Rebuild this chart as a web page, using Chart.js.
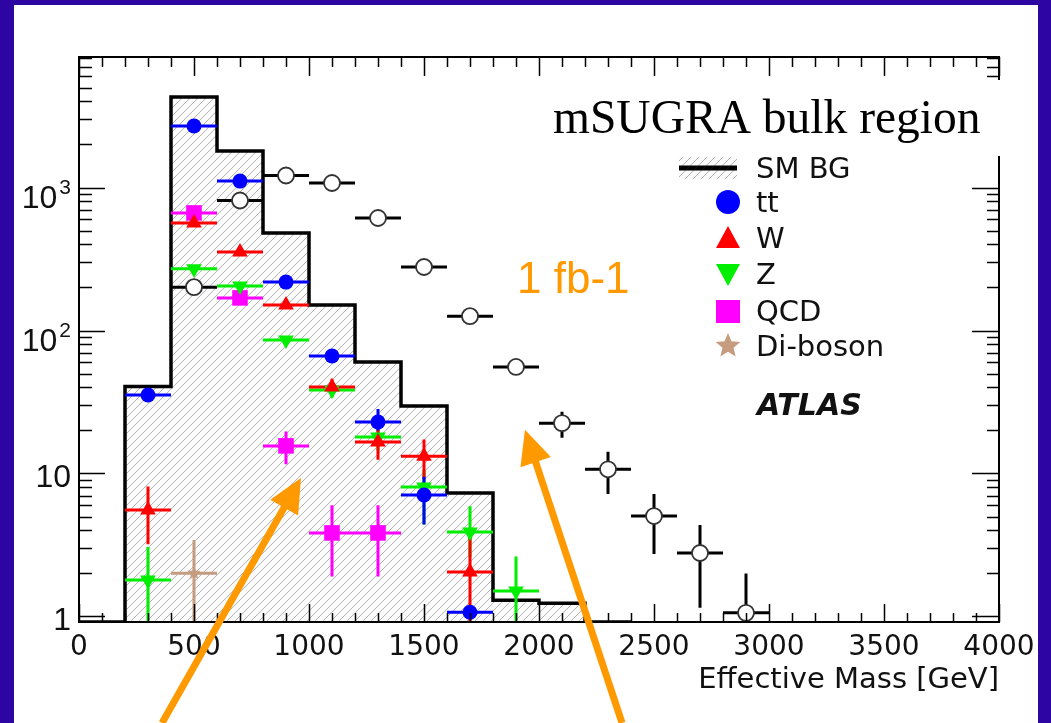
<!DOCTYPE html>
<html>
<head>
<meta charset="utf-8">
<title>Effective Mass</title>
<script src="https://cdn.jsdelivr.net/npm/chart.js@4.4.1/dist/chart.umd.min.js"></script>
<style>
  html, body { margin: 0; padding: 0; background: #2c05a2; }
  canvas { display: block; }
</style>
</head>
<body>
<canvas id="meffChart" width="1051" height="723"></canvas>
<script>
// Effective mass, 200 GeV bins (SM background histogram)
const binEdges = [0, 200, 400, 600, 800, 1000, 1200, 1400, 1600, 1800, 2000, 2200, 2400];
const smBackground = [0, 40.6, 4295, 1799, 481, 151, 60.3, 29.7, 7.31, 1.30, 1.24, 0];

// SUSY signal (open circles)
const signalMass = [500, 700, 900, 1100, 1300, 1500, 1700, 1900, 2100, 2300, 2500, 2700, 2900];
const signalEvents = [201, 811, 1213, 1075, 612, 278, 126, 55.6, 22.5, 10.7, 5.04, 2.78, 1.06];
const signalLow = [null, null, null, null, null, null, null, 52, 17.8, 7.2, 2.74, 1.15, 0];
const signalHigh = [null, null, null, null, null, null, null, 60, 27.0, 14.2, 7.2, 4.36, 2.0];

// background components
const ttMass = [300, 500, 700, 900, 1100, 1300, 1500, 1700];
const ttEvents = [35.4, 2692, 1109, 218, 66.4, 22.9, 7.07, 1.07];
const ttLow = [null, null, null, null, null, 20, 4.4, null];
const ttHigh = [null, null, null, null, null, 28.3, 9.5, null];

const wMass = [300, 500, 700, 900, 1100, 1300, 1500, 1700];
const wEvents = [5.56, 565, 354, 151, 40.3, 16.6, 13.2, 2.05];
const wLow = [3.2, null, null, null, 35, 12.5, 9.1, 0];
const wHigh = [8.1, null, null, null, 46, 22.7, 17.3, 3.6];

const zMass = [300, 500, 700, 900, 1100, 1300, 1500, 1700, 1900];
const zEvents = [1.80, 270, 205, 85.9, 38.4, 18.0, 8.05, 3.90, 1.51];
const zLow = [0, null, null, null, 34, 14.5, 4.4, 2.6, 0];
const zHigh = [3.06, null, null, null, 43, 21, 10.5, 5.9, 2.63];

const qcdMass = [500, 700, 900, 1100, 1300];
const qcdEvents = [664, 169, 15.6, 3.84, 3.84];
const qcdLow = [null, null, 11.6, 1.9, 1.9];
const qcdHigh = [null, null, 19.7, 6.0, 6.0];

const dibosonMass = [500];
const dibosonEvents = [2.01];
const dibosonLow = [0];
const dibosonHigh = [3.43];

// axis ticks
const xTickValues = [0, 500, 1000, 1500, 2000, 2500, 3000, 3500, 4000];
const xTickLabels = ['0', '500', '1000', '1500', '2000', '2500', '3000', '3500', '4000'];
const yTickValues = [1, 10, 100, 1000];
const yTickBase = ['1', '10', '10', '10'];
const yTickExp = ['', '', '2', '3'];

const legendNames = ['SM BG', 'tt', 'W', 'Z', 'QCD', 'Di-boson'];

// orange arrows (tail -> tip, data coordinates)
const arrowTailMass = [361, 2361];
const arrowTailEvents = [0.18, 0.18];
const arrowTipMass = [965, 1939];
const arrowTipEvents = [9.3, 20.2];

const Y_MIN = 0.915;
const Y_MAX = 8180;
const HALF_BIN = 100;

const BLUE = '#0000ff', RED = '#ff0000', GREEN = '#00ee00', MAGENTA = '#ff00ff', TAN = '#c59c80';

// hatch fill for the background histogram
function makeHatch() {
  const s = 8;
  const c = document.createElement('canvas');
  c.width = s; c.height = s;
  const g = c.getContext('2d');
  g.fillStyle = '#fbfbfb';
  g.fillRect(0, 0, s, s);
  g.strokeStyle = '#b4b4b4';
  g.lineWidth = 1;
  g.beginPath();
  g.moveTo(0, s); g.lineTo(s, 0);
  g.moveTo(-1, 1); g.lineTo(1, -1);
  g.moveTo(s - 1, s + 1); g.lineTo(s + 1, s - 1);
  g.stroke();
  return g.createPattern(c, 'repeat');
}
const hatch = makeHatch();

function starPath(ctx, x, y, r) {
  ctx.beginPath();
  for (let i = 0; i < 10; i++) {
    const rr = i % 2 === 0 ? r : r * 0.45;
    const a = -Math.PI / 2 + i * Math.PI / 5;
    const px = x + rr * Math.cos(a), py = y + rr * Math.sin(a);
    if (i === 0) ctx.moveTo(px, py); else ctx.lineTo(px, py);
  }
  ctx.closePath();
}

function makeStar(r, color) {
  const c = document.createElement('canvas');
  c.width = 2 * r + 2; c.height = 2 * r + 2;
  const g = c.getContext('2d');
  g.fillStyle = color;
  starPath(g, r + 1, r + 1, r);
  g.fill();
  return c;
}

function toPoints(xs, ys) {
  return xs.map((x, i) => ({ x: x, y: ys[i] }));
}

// histogram outline: two points per bin, clamped to the bottom for empty bins
const histPoints = [];
smBackground.forEach((v, i) => {
  const y = v > 0 ? v : Y_MIN;
  histPoints.push({ x: binEdges[i], y: y });
  histPoints.push({ x: binEdges[i + 1], y: y });
});

const errorSets = [
  { xs: signalMass, ys: signalEvents, lo: signalLow, hi: signalHigh, color: '#000000' },
  { xs: dibosonMass, ys: dibosonEvents, lo: dibosonLow, hi: dibosonHigh, color: TAN },
  { xs: qcdMass, ys: qcdEvents, lo: qcdLow, hi: qcdHigh, color: MAGENTA },
  { xs: zMass, ys: zEvents, lo: zLow, hi: zHigh, color: GREEN },
  { xs: wMass, ys: wEvents, lo: wLow, hi: wHigh, color: RED },
  { xs: ttMass, ys: ttEvents, lo: ttLow, hi: ttHigh, color: BLUE }
];

const errorBars = {
  id: 'errorBars',
  afterDatasetDraw(chart, args) {
    if (args.index !== 0) return;
    const ctx = chart.ctx, xs = chart.scales.x, ys = chart.scales.y, a = chart.chartArea;
    ctx.save();
    ctx.beginPath();
    ctx.rect(a.left, a.top, a.right - a.left, a.bottom - a.top);
    ctx.clip();
    ctx.lineWidth = 3;
    errorSets.forEach(set => {
      ctx.strokeStyle = set.color;
      ctx.beginPath();
      set.xs.forEach((m, i) => {
        const py = ys.getPixelForValue(set.ys[i]);
        ctx.moveTo(xs.getPixelForValue(m - HALF_BIN), py);
        ctx.lineTo(xs.getPixelForValue(m + HALF_BIN), py);
        if (set.lo[i] !== null) {
          const px = xs.getPixelForValue(m);
          const lo = set.lo[i] > 0 ? ys.getPixelForValue(set.lo[i]) : a.bottom;
          ctx.moveTo(px, lo);
          ctx.lineTo(px, ys.getPixelForValue(set.hi[i]));
        }
      });
      ctx.stroke();
    });
    ctx.restore();
  }
};

function drawArrow(ctx, x0, y0, x1, y1) {
  const dx = x1 - x0, dy = y1 - y0, len = Math.hypot(dx, dy);
  const ux = dx / len, uy = dy / len, nx = -uy, ny = ux;
  const head = 34, half = 16;
  ctx.strokeStyle = '#ff9900';
  ctx.fillStyle = '#ff9900';
  ctx.lineWidth = 7;
  ctx.beginPath();
  ctx.moveTo(x0, y0);
  ctx.lineTo(x1 - ux * (head - 4), y1 - uy * (head - 4));
  ctx.stroke();
  ctx.beginPath();
  ctx.moveTo(x1, y1);
  ctx.lineTo(x1 - ux * head + nx * half, y1 - uy * head + ny * half);
  ctx.lineTo(x1 - ux * head - nx * half, y1 - uy * head - ny * half);
  ctx.closePath();
  ctx.fill();
}

const decorations = {
  id: 'decorations',
  beforeDraw(chart) {
    const ctx = chart.ctx;
    ctx.save();
    ctx.fillStyle = '#2c05a2';
    ctx.fillRect(0, 0, chart.width, chart.height);
    ctx.fillStyle = '#ffffff';
    ctx.fillRect(14, 5, 1038 - 14, chart.height - 5);
    ctx.restore();
  },
  afterDraw(chart) {
    const ctx = chart.ctx, xs = chart.scales.x, ys = chart.scales.y;
    const { left, right, top, bottom } = chart.chartArea;
    ctx.save();

    // frame and inward ticks on all four sides
    ctx.strokeStyle = '#000';
    ctx.lineWidth = 2;
    ctx.strokeRect(left, top, right - left, bottom - top);
    ctx.lineWidth = 1.5;
    ctx.beginPath();
    for (let v = 0; v <= 4000; v += 100) {
      const px = Math.round(xs.getPixelForValue(v)) + 0.5;
      const major = v % 500 === 0;
      ctx.moveTo(px, bottom); ctx.lineTo(px, bottom - (major ? 18 : 9));
      ctx.moveTo(px, top); ctx.lineTo(px, top + (major ? 19 : 10));
    }
    for (let d = 1; d <= 1000; d *= 10) {
      for (let m = 1; m <= 9; m++) {
        const v = d * m;
        if (v > Y_MAX) break;
        const py = Math.round(ys.getPixelForValue(v)) + 0.5;
        const major = m === 1;
        ctx.moveTo(left, py); ctx.lineTo(left + (major ? 26 : 13), py);
        ctx.moveTo(right, py); ctx.lineTo(right - (major ? 27 : 12), py);
      }
    }
    ctx.stroke();

    // tick labels
    ctx.fillStyle = '#111';
    ctx.font = '28px "DejaVu Sans"';
    ctx.textAlign = 'center';
    ctx.textBaseline = 'alphabetic';
    xTickValues.forEach((v, i) => {
      ctx.fillText(xTickLabels[i], xs.getPixelForValue(v), bottom + 33);
    });
    ctx.textAlign = 'right';
    yTickValues.forEach((v, i) => {
      const py = ys.getPixelForValue(v);
      if (yTickExp[i]) {
        ctx.font = '21px "Liberation Sans"';
        ctx.fillText(yTickExp[i], 71, py + 6);
        const w = ctx.measureText(yTickExp[i]).width;
        ctx.font = '32px "Liberation Sans"';
        ctx.fillText(yTickBase[i], 71 - w - 2, py + 20);
      } else {
        ctx.font = '32px "Liberation Sans"';
        ctx.fillText(yTickBase[i], 71, py + 14);
      }
    });

    // axis title
    ctx.font = '29px "DejaVu Sans"';
    ctx.fillText('Effective Mass [GeV]', right, bottom + 66);

    // region label on its white box
    ctx.fillStyle = '#ffffff';
    ctx.fillRect(548, 80, 458, 76);
    ctx.fillStyle = '#000';
    ctx.textAlign = 'left';
    ctx.font = '47.5px "Liberation Serif"';
    ctx.fillText('mSUGRA bulk region', 553, 133);

    // legend
    const lx = 728, tx = 756;
    const rows = [168, 202, 238, 274, 311, 346];
    ctx.fillStyle = hatch;
    ctx.fillRect(679, 157, 58, 22);
    ctx.strokeStyle = '#000';
    ctx.lineWidth = 5;
    ctx.beginPath();
    ctx.moveTo(679, rows[0]); ctx.lineTo(737, rows[0]);
    ctx.stroke();
    ctx.fillStyle = BLUE;
    ctx.beginPath(); ctx.arc(lx, rows[1], 12, 0, 2 * Math.PI); ctx.fill();
    ctx.fillStyle = RED;
    ctx.beginPath();
    ctx.moveTo(lx, rows[2] - 12); ctx.lineTo(lx + 12, rows[2] + 10); ctx.lineTo(lx - 12, rows[2] + 10);
    ctx.closePath(); ctx.fill();
    ctx.fillStyle = GREEN;
    ctx.beginPath();
    ctx.moveTo(lx, rows[3] + 12); ctx.lineTo(lx + 12, rows[3] - 10); ctx.lineTo(lx - 12, rows[3] - 10);
    ctx.closePath(); ctx.fill();
    ctx.fillStyle = MAGENTA;
    ctx.fillRect(lx - 12, rows[4] - 11, 24, 23);
    ctx.fillStyle = TAN;
    starPath(ctx, lx, rows[5], 13);
    ctx.fill();

    ctx.fillStyle = '#111';
    ctx.font = '29px "DejaVu Sans"';
    ctx.textBaseline = 'middle';
    legendNames.forEach((name, i) => ctx.fillText(name, tx, rows[i] + 2));

    ctx.textBaseline = 'alphabetic';
    ctx.font = 'italic bold 30px "DejaVu Sans"';
    ctx.fillText('ATLAS', 757, 415);

    ctx.fillStyle = '#ff9900';
    ctx.font = '44px "Liberation Sans"';
    ctx.fillText('1 fb-1', 517, 293);

    arrowTipMass.forEach((m, i) => {
      drawArrow(ctx,
        xs.getPixelForValue(arrowTailMass[i]), ys.getPixelForValue(arrowTailEvents[i]),
        xs.getPixelForValue(m), ys.getPixelForValue(arrowTipEvents[i]));
    });
    ctx.restore();
  }
};

new Chart(document.getElementById('meffChart'), {
  type: 'scatter',
  data: {
    datasets: [
      {
        label: 'SM BG',
        data: histPoints,
        showLine: true,
        borderColor: '#000',
        borderWidth: 3.5,
        backgroundColor: hatch,
        fill: 'start',
        pointRadius: 0,
        tension: 0,
        order: 10
      },
      {
        label: 'signal',
        data: toPoints(signalMass, signalEvents),
        pointStyle: 'circle',
        pointRadius: 8,
        backgroundColor: '#ffffff',
        borderColor: '#333',
        borderWidth: 1.8
      },
      {
        label: 'tt',
        data: toPoints(ttMass, ttEvents),
        pointStyle: 'circle',
        pointRadius: 7.5,
        backgroundColor: BLUE,
        borderColor: BLUE,
        borderWidth: 0
      },
      {
        label: 'W',
        data: toPoints(wMass, wEvents),
        pointStyle: 'triangle',
        pointRadius: 9,
        backgroundColor: RED,
        borderColor: RED,
        borderWidth: 0
      },
      {
        label: 'Z',
        data: toPoints(zMass, zEvents),
        pointStyle: 'triangle',
        rotation: 180,
        pointRadius: 9,
        backgroundColor: GREEN,
        borderColor: GREEN,
        borderWidth: 0
      },
      {
        label: 'QCD',
        data: toPoints(qcdMass, qcdEvents),
        pointStyle: 'rect',
        pointRadius: 11,
        backgroundColor: MAGENTA,
        borderColor: MAGENTA,
        borderWidth: 0
      },
      {
        label: 'Di-boson',
        data: toPoints(dibosonMass, dibosonEvents),
        pointStyle: makeStar(7, TAN),
        backgroundColor: TAN,
        borderColor: TAN
      }
    ]
  },
  options: {
    responsive: false,
    animation: false,
    layout: { padding: { left: 79, top: 57, right: 52, bottom: 101 } },
    scales: {
      x: { type: 'linear', min: 0, max: 4000, display: false },
      y: { type: 'logarithmic', min: Y_MIN, max: Y_MAX, display: false }
    },
    plugins: {
      legend: { display: false },
      tooltip: { enabled: false }
    }
  },
  plugins: [errorBars, decorations]
});
</script>
</body>
</html>
